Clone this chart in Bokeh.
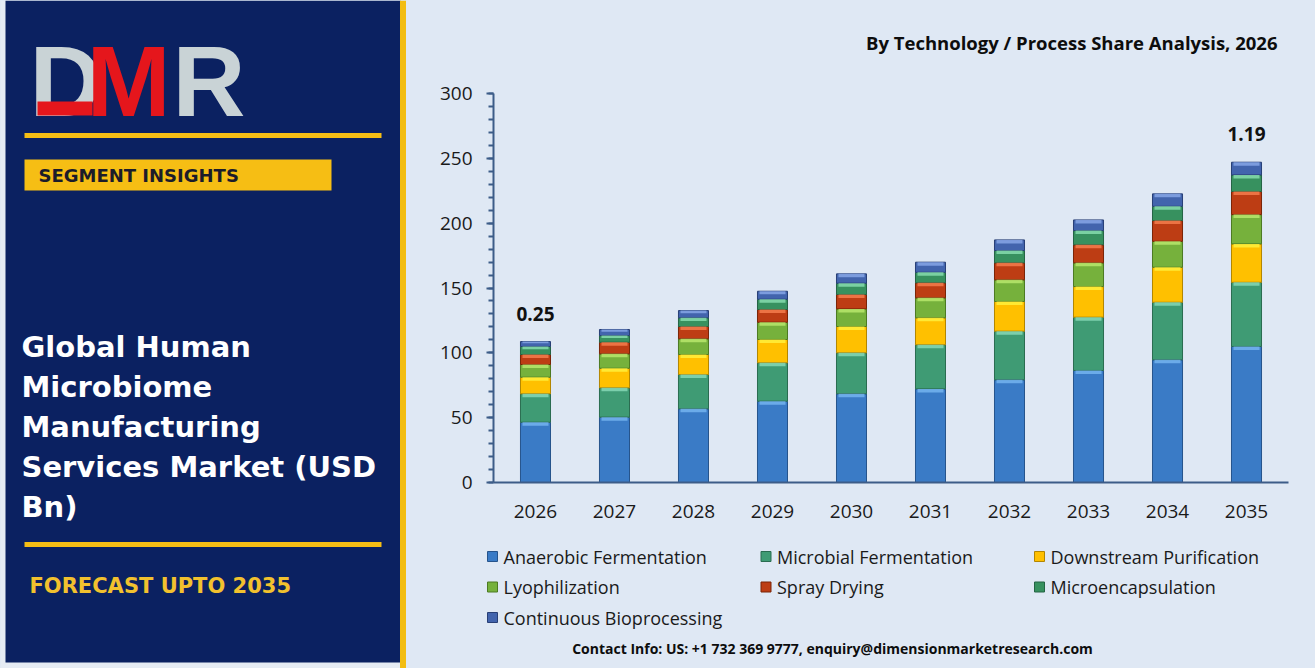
import pandas as pd
from bokeh.plotting import figure
from bokeh.models import ColumnDataSource, FactorRange, Range1d, SingleIntervalTicker
from bokeh.layouts import row, column
from bokeh.embed import file_html
from bokeh.resources import INLINE
from bokeh.core.properties import value

# ---- data -------------------------------------------------------------
years = ["2026", "2027", "2028", "2029", "2030", "2031", "2032", "2033", "2034", "2035"]

anaerobic_fermentation = [46.5, 50.4, 56.8, 62.7, 68.4, 72.2, 79.2, 86.4, 94.6, 104.9]
microbial_fermentation = [21.9, 22.6, 26.5, 29.6, 31.6, 34.0, 37.5, 41.1, 44.4, 49.5]
downstream_purification = [12.8, 15.1, 15.4, 18.0, 20.3, 20.8, 22.9, 23.6, 27.0, 29.6]
lyophilization = [9.8, 11.1, 12.1, 13.3, 13.6, 15.4, 16.7, 18.3, 20.0, 22.6]
spray_drying = [7.7, 9.0, 9.5, 9.8, 11.1, 11.6, 13.1, 13.9, 16.0, 17.8]
microencapsulation = [6.2, 5.1, 6.7, 7.9, 8.7, 8.1, 9.5, 11.0, 11.0, 12.8]
continuous_bioprocessing = [3.8, 4.7, 5.6, 6.2, 7.2, 7.8, 8.2, 8.2, 9.6, 9.8]

series_labels = [
    "Anaerobic Fermentation",
    "Microbial Fermentation",
    "Downstream Purification",
    "Lyophilization",
    "Spray Drying",
    "Microencapsulation",
    "Continuous Bioprocessing",
]

# market size call-outs shown above the first and last bars (USD Bn)
callout_years = ["2026", "2035"]
callout_text = ["0.25", "1.19"]

y_ticks_interval = 50

# ---- styling ----------------------------------------------------------
BG = "#dfe8f4"
NAVY = "#0b2161"
GOLD = "#f6be14"
AXIS = "#3d5c88"

face = ["#3a7bc6", "#3f9b74", "#ffc000", "#76b13c", "#bd3d14", "#37915f", "#4264ad"]
light = ["#74b4ee", "#86d8b6", "#fff03c", "#b9e86c", "#f47c4c", "#86dcae", "#86a6e6"]
edge = ["#26548c", "#2a6c50", "#b38600", "#4c7a22", "#7a2406", "#246444", "#283f76"]

# ---- stacked data -----------------------------------------------------
keys = ["s%d" % i for i in range(len(series_labels))]
df = pd.DataFrame({"year": years})
for k, vals in zip(keys, [anaerobic_fermentation, microbial_fermentation,
                          downstream_purification, lyophilization, spray_drying,
                          microencapsulation, continuous_bioprocessing]):
    df[k] = vals
cum = df[keys].cumsum(axis=1)
for k in keys:
    df[k + "_top"] = cum[k]
    df[k + "_hl"] = cum[k] - df[k].clip(upper=7.5) * 0.36
df["total"] = cum[keys[-1]]
source = ColumnDataSource(df)

# ---- chart ------------------------------------------------------------
chart = figure(
    width=909, height=465,
    x_range=FactorRange(factors=years, range_padding=0.0063),
    y_range=Range1d(0, 300),
    output_backend="svg", toolbar_location=None,
    min_border_left=87, min_border_right=27, min_border_top=23, min_border_bottom=53,
    background_fill_color=BG, border_fill_color=BG, outline_line_color=None,
    frame_align=False,
)
chart.grid.visible = False

chart.vbar_stack(keys, x="year", width=0.38, source=source,
                 fill_color=face, line_color=edge, line_width=1)

# bevel highlight along the top of every segment
for k, c in zip(keys, light):
    chart.vbar(x="year", top=k + "_top", bottom=k + "_hl", width=0.33,
               source=source, fill_color=c, line_color=None, fill_alpha=0.85)

call = df[df["year"].isin(callout_years)].copy()
call["label"] = [callout_text[callout_years.index(y)] for y in call["year"]]
call["ly"] = call["total"] + 21.5
chart.text(x="year", y="ly", text="label", source=ColumnDataSource(call),
           text_font=value("Open Sans"), text_font_style="bold",
           text_font_size="19px", text_color="#111111",
           text_align="center", text_baseline="middle")

yax = chart.yaxis[0]
yax.ticker = SingleIntervalTicker(interval=y_ticks_interval, num_minor_ticks=5)
yax.axis_line_color = AXIS
yax.axis_line_width = 2
yax.major_tick_line_color = AXIS
yax.major_tick_line_width = 2
yax.major_tick_out = 7
yax.major_tick_in = 0
yax.minor_tick_line_color = AXIS
yax.minor_tick_line_width = 2
yax.minor_tick_out = 5
yax.minor_tick_in = 0
yax.major_label_standoff = 14
yax.major_label_text_font = "Open Sans"
yax.major_label_text_font_size = "19px"
yax.major_label_text_color = "#1a1a1a"

xax = chart.xaxis[0]
xax.axis_line_color = AXIS
xax.axis_line_width = 2
xax.major_tick_out = 0
xax.major_tick_in = 0
xax.minor_tick_line_color = None
xax.major_label_standoff = 22
xax.major_label_text_font = "Open Sans"
xax.major_label_text_font_size = "19px"
xax.major_label_text_color = "#1a1a1a"


def panel(w, h, bg):
    f = figure(width=w, height=h, x_range=Range1d(0, w), y_range=Range1d(h, 0),
               x_axis_location=None, y_axis_location=None,
               output_backend="svg", toolbar_location=None, min_border=0,
               background_fill_color=bg, border_fill_color=bg, outline_line_color=None,
               frame_align=False)
    f.grid.visible = False
    return f


# ---- chart heading ----------------------------------------------------
head = panel(909, 70, BG)
head.text(x=[871], y=[42], text=["By Technology / Process Share Analysis, 2026"],
          text_font=value("Open Sans"), text_font_style="bold", text_font_size="18.5px",
          text_color="#0d0d0d", text_align="right", text_baseline="middle")

# ---- legend and contact line -----------------------------------------
leg = panel(909, 133, BG)
lx = [86 + (i % 3) * 273.5 for i in range(len(series_labels))]
ly = [21 + (i // 3) * 30.5 for i in range(len(series_labels))]
leg.rect(x=lx, y=ly, width=10, height=10, fill_color=face, line_color=edge, line_width=1)
leg.text(x=[v + 11 for v in lx], y=ly, text=series_labels,
         text_font=value("Open Sans"), text_font_size="18px", text_color="#1a1a1a",
         text_align="left", text_baseline="middle")
leg.text(x=[426], y=[113],
         text=["Contact Info: US: +1 732 369 9777, enquiry@dimensionmarketresearch.com"],
         text_font=value("Open Sans"), text_font_style="bold", text_font_size="14px",
         text_color="#0d0d0d", text_align="center", text_baseline="middle")

# ---- left side panel --------------------------------------------------
side = panel(406, 668, "#e6ecf4")
side.quad(left=[5], right=[400], top=[0], bottom=[662], fill_color=NAVY, line_color=None)

# DMR mark
logo_font = dict(text_font=value("Liberation Sans"), text_font_style="bold",
                 text_font_size="101px", text_align="left", text_baseline="middle")
side.text(x=[29], y=[80], text=["D"], text_color="#c9d3d6", **logo_font)
side.quad(left=[37], right=[92], top=[101], bottom=[115], fill_color="#e5161c", line_color=None)
side.text(x=[86], y=[80], text=["M"], text_color="#e5161c", **logo_font)
side.text(x=[172], y=[80], text=["R"], text_color="#c9d3d6", **logo_font)

side.quad(left=[24], right=[381], top=[132.5], bottom=[137.5], fill_color=GOLD, line_color=None)
side.quad(left=[24], right=[331], top=[159], bottom=[190], fill_color=GOLD, line_color=None)
side.text(x=[38], y=[175], text=["SEGMENT INSIGHTS"], text_font=value("DejaVu Sans"),
          text_font_style="bold", text_font_size="18px", text_color="#1c1c2a",
          text_align="left", text_baseline="middle")

title_lines = ["Global Human", "Microbiome", "Manufacturing", "Services Market (USD", "Bn)"]
side.text(x=[21] * len(title_lines), y=[346 + 40.2 * i for i in range(len(title_lines))],
          text=title_lines, text_font=value("DejaVu Sans"), text_font_style="bold",
          text_font_size="29px", text_color="#ffffff",
          text_align="left", text_baseline="middle")

side.quad(left=[24], right=[381], top=[541.5], bottom=[546.5], fill_color=GOLD, line_color=None)
side.text(x=[29], y=[585], text=["FORECAST UPTO 2035"], text_font=value("DejaVu Sans"),
          text_font_style="bold", text_font_size="21px", text_color="#f2c12e",
          text_align="left", text_baseline="middle")

# gold edge between the panel and the chart
side.quad(left=[399.5], right=[406], top=[0], bottom=[668], fill_color="#f3bd12", line_color=None)

right_col = column(head, chart, leg, spacing=0, styles={"background-color": BG})
layout = row(side, right_col, spacing=0, styles={"background-color": BG})

open("out.html", "w").write(file_html(layout, INLINE))
